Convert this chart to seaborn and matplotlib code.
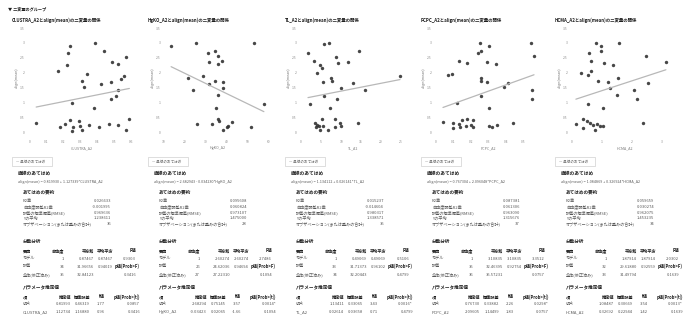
import math
import numpy as np
import pandas as pd
import matplotlib
matplotlib.use("Agg")
import matplotlib.pyplot as plt
from matplotlib.patches import Rectangle
import seaborn as sns

# ---- data -------------------------------------------------------------
response = "align(mean)"
group_title = "▼ 二変量のグループ"
names = ["CLUSTRA_A2", "HgKO_A2", "TL_A2", "PCPC_A2", "HCMA_A2"]

clustra_x = [0.39, 0.24, 0.23, 0.44, 0.57, 0.49, 0.52, 0.22, 0.17, 0.34, 0.56, 0.54,
             0.31, 0.48, 0.42, 0.32, 0.52, 0.51, 0.48, 0.25, 0.38, 0.59, 0.04, 0.24,
             0.29, 0.21, 0.26, 0.30, 0.35, 0.41, 0.47, 0.52, 0.25, 0.57, 0.18, 0.31]
clustra_y = [3.00, 2.90, 2.67, 2.73, 2.53, 2.37, 2.30, 2.27, 2.07, 1.97, 1.90, 1.80,
             1.73, 1.70, 1.63, 1.53, 1.43, 1.23, 1.13, 1.00, 0.83, 0.47, 0.33, 0.43,
             0.40, 0.30, 0.20, 0.23, 0.27, 0.20, 0.30, 0.27, 0.07, 0.10, 0.20, 0.10]

hgko_x = [13.8, 25.7, 52.9, 31.0, 34.3, 35.7, 31.9, 37.6, 35.7, 29.0, 21.9, 31.9,
          38.1, 34.3, 38.1, 24.3, 35.7, 57.6, 34.8, 35.7, 36.2, 26.2, 33.3, 40.5,
          40.0, 42.4, 38.1, 51.4]
hgko_y = [2.90, 3.00, 3.00, 2.67, 2.73, 2.57, 2.37, 2.40, 2.30, 1.90, 1.83, 1.63,
          1.70, 1.73, 1.50, 1.43, 1.27, 0.97, 0.83, 0.47, 0.40, 0.30, 0.30, 0.23,
          0.20, 0.37, 0.10, 0.20]

tl_x = [5.75, 7.0, 1.75, 14.5, 8.75, 3.25, 9.25, 11.75, 4.75, 5.25, 4.0, 7.5,
        7.75, 5.5, 13.0, 10.0, 16.0, 5.75, 9.0, 2.25, 7.25, 5.25, 8.5, 3.5,
        4.0, 4.5, 5.5, 3.75, 9.75, 10.0, 8.5, 14.25, 4.75, 6.75, 24.75]
tl_y = [2.97, 3.00, 2.67, 2.73, 2.53, 2.40, 2.33, 2.37, 2.27, 2.17, 2.00, 1.83,
        1.73, 1.70, 1.67, 1.50, 1.43, 1.23, 1.13, 0.97, 0.83, 0.47, 0.47, 0.33,
        0.27, 0.23, 0.23, 0.20, 0.33, 0.23, 0.20, 0.33, 0.10, 0.10, 1.90]

pcpc_x = [0.25, 0.30, 0.54, 0.26, 0.24, 0.56, 0.13, 0.18, 0.29, 0.34, 0.07, 0.09,
          0.26, 0.26, 0.29, 0.41, 0.39, 0.55, 0.55, 0.26, 0.12, 0.30, 0.04, 0.10,
          0.13, 0.15, 0.18, 0.21, 0.14, 0.17, 0.20, 0.21, 0.10, 0.30, 0.32, 0.35, 0.44]
pcpc_y = [3.00, 2.90, 3.00, 2.73, 2.67, 2.57, 2.40, 2.33, 2.37, 2.30, 1.93, 1.97,
          1.83, 1.73, 1.70, 1.67, 1.53, 1.43, 1.13, 1.23, 1.00, 0.83, 0.37, 0.33,
          0.30, 0.43, 0.47, 0.43, 0.20, 0.23, 0.27, 0.20, 0.17, 0.23, 0.20, 0.27, 0.33]

hcma_x = [0.80, 0.97, 1.57, 0.97, 0.57, 2.47, 0.63, 1.07, 1.37, 0.63, 0.30, 0.53,
          1.53, 0.87, 1.20, 2.53, 1.27, 2.07, 1.50, 2.17, 0.53, 1.03, 0.37, 0.50,
          0.13, 0.60, 0.70, 0.83, 0.93, 1.03, 0.37, 0.77, 2.37, 3.13]
hcma_y = [3.00, 2.90, 3.00, 2.73, 2.67, 2.57, 2.40, 2.33, 2.27, 2.07, 2.00, 1.93,
          1.83, 1.73, 1.70, 1.67, 1.50, 1.43, 1.27, 1.13, 0.97, 0.83, 0.47, 0.40,
          0.30, 0.33, 0.27, 0.30, 0.23, 0.23, 0.17, 0.10, 0.33, 2.35]

xs = [clustra_x, hgko_x, tl_x, pcpc_x, hcma_x]
ys = [clustra_y, hgko_y, tl_y, pcpc_y, hcma_y]

y_ticks = [0, 0.5, 1, 1.5, 2, 2.5, 3, 3.5]
y_tick_labels = ["0", "0.5", "1", "1.5", "2", "2.5", "3", "3.5"]
x_ticks = [[0, 0.1, 0.2, 0.3, 0.4, 0.5, 0.6],
           [10, 20, 30, 40, 50, 60],
           [0, 5, 10, 15, 20, 25],
           [0, 0.1, 0.2, 0.3, 0.4, 0.5],
           [0, 1, 2, 3]]
x_tick_labels = [["0", "0.1", "0.2", "0.3", "0.4", "0.5", "0.6"],
                 ["10", "20", "30", "40", "50", "60"],
                 ["0", "5", "10", "15", "20", "25"],
                 ["0", "0.1", "0.2", "0.3", "0.4", "0.5"],
                 ["0", "1", "2", "3"]]
x_limits = [(-0.02, 0.635), (9.5, 61.9), (-0.75, 27.0), (-0.017, 0.617), (-0.1, 3.6)]
y_limits = (-0.167, 3.5)

# ---- layout (pixels) -------------------------------------------------
W, H = 686, 320
panel_left = [12, 148, 285, 421, 555]
axes_left = [26, 162, 298, 433, 569]
axes_w, axes_top, axes_bottom = 111, 28, 138

sns.set_theme(style="white")
plt.rcParams["font.family"] = ["Noto Sans CJK JP", "DejaVu Sans"]

fig = plt.figure(figsize=(W / 100, H / 100), dpi=100)
fig.patch.set_facecolor("white")

BODY = "#5a5a5a"
HEAD = "#1e1e1e"
SMALL = 3.0


def put(px, py, s, size=SMALL, bold=False, ha="left", color=None, **kw):
    fig.text(px / W, 1 - py / H, s, fontsize=size, ha=ha, va="center",
             fontweight="bold" if bold else "normal",
             color=color or (HEAD if bold else BODY), **kw)


# ---- statistics helpers ----------------------------------------------
def betacf(a, b, x):
    fpmin = 1e-300
    qab, qap, qam = a + b, a + 1.0, a - 1.0
    c = 1.0
    d = 1.0 - qab * x / qap
    d = 1.0 / (d if abs(d) > fpmin else fpmin)
    h = d
    for m in range(1, 300):
        m2 = 2 * m
        aa = m * (b - m) * x / ((qam + m2) * (a + m2))
        d = 1.0 + aa * d
        d = d if abs(d) > fpmin else fpmin
        c = 1.0 + aa / c
        c = c if abs(c) > fpmin else fpmin
        d = 1.0 / d
        h *= d * c
        aa = -(a + m) * (qab + m) * x / ((a + m2) * (qap + m2))
        d = 1.0 + aa * d
        d = d if abs(d) > fpmin else fpmin
        c = 1.0 + aa / c
        c = c if abs(c) > fpmin else fpmin
        d = 1.0 / d
        de = d * c
        h *= de
        if abs(de - 1.0) < 3e-14:
            break
    return h


def betai(a, b, x):
    if x <= 0:
        return 0.0
    if x >= 1:
        return 1.0
    lbt = (math.lgamma(a + b) - math.lgamma(a) - math.lgamma(b)
           + a * math.log(x) + b * math.log(1 - x))
    bt = math.exp(lbt)
    if x < (a + 1) / (a + b + 2):
        return bt * betacf(a, b, x) / a
    return 1.0 - bt * betacf(b, a, 1 - x) / b


def p_two_sided(t, df):
    return betai(df / 2.0, 0.5, df / (df + t * t))


def fmt_p(p):
    if p < 0.0001:
        return "<.0001*"
    return f"{p:.4f}" + ("*" if p < 0.05 else "")


def fit(x, y):
    x = np.asarray(x, float)
    y = np.asarray(y, float)
    n = len(x)
    xm, ym = x.mean(), y.mean()
    sxx = ((x - xm) ** 2).sum()
    b = ((x - xm) * (y - ym)).sum() / sxx
    a = ym - b * xm
    resid = y - (a + b * x)
    sse = (resid ** 2).sum()
    sst = ((y - ym) ** 2).sum()
    ssm = sst - sse
    dfe = n - 2
    mse = sse / dfe
    r2 = ssm / sst
    r2a = 1 - (1 - r2) * (n - 1) / dfe
    rmse = math.sqrt(mse)
    se_b = math.sqrt(mse / sxx)
    se_a = math.sqrt(mse * (1.0 / n + xm ** 2 / sxx))
    t_a, t_b = a / se_a, b / se_b
    F = ssm / mse
    return dict(n=n, a=a, b=b, r2=r2, r2a=r2a, rmse=rmse, ym=ym, ssm=ssm,
                sse=sse, sst=sst, mse=mse, F=F, dfe=dfe, se_a=se_a, se_b=se_b,
                t_a=t_a, t_b=t_b, p_a=p_two_sided(t_a, dfe),
                p_b=p_two_sided(t_b, dfe), p_F=p_two_sided(t_b, dfe))


# ---- drawing -----------------------------------------------------------
put(8, 9, group_title, size=3.0, bold=True)

for i, name in enumerate(names):
    ox = panel_left[i]
    df = pd.DataFrame({name: xs[i], response: ys[i]})
    st = fit(xs[i], ys[i])

    put(ox, 20, f"{name}と{response}の二変量の関係", size=3.2, bold=True)

    ax = fig.add_axes([axes_left[i] / W, 1 - axes_bottom / H,
                       axes_w / W, (axes_bottom - axes_top) / H])
    sns.regplot(data=df, x=name, y=response, ax=ax, ci=None, truncate=True,
                scatter_kws=dict(s=6, color="#333333", linewidths=0, alpha=0.9),
                line_kws=dict(color="#b8b8b8", lw=0.9))
    ax.set_xlim(*x_limits[i])
    ax.set_ylim(*y_limits)
    ax.set_xticks(x_ticks[i])
    ax.set_xticklabels(x_tick_labels[i])
    ax.set_yticks(y_ticks)
    ax.set_yticklabels(y_tick_labels)
    ax.tick_params(labelsize=2.4, length=0, pad=1.2, colors="#8a8a8a")
    ax.set_xlabel("")
    ax.set_ylabel("")
    for sp in ax.spines.values():
        sp.set_visible(False)
    ax.set_facecolor("white")

    cx = axes_left[i] + axes_w / 2
    put(cx, 148, name, size=2.6, ha="center", color="#777777")
    put(axes_left[i] - 9, 78, response, size=2.6, ha="center", color="#777777",
        rotation=90)

    # fit legend box
    fig.patches.append(Rectangle((ox / W, 1 - 165.5 / H), 40 / W, 8.5 / H,
                                 transform=fig.transFigure, fill=False,
                                 edgecolor="#c4c4c4", lw=0.4))
    put(ox + 4, 161.3, "— 直線のあてはめ", size=2.6, color="#666666")

    # linear fit report
    put(ox + 6, 173, "直線のあてはめ", size=3.4, bold=True)
    sign = "+" if st["b"] >= 0 else "-"
    put(ox + 6, 182, f"{response} = {st['a']:.6f} {sign} {abs(st['b']):.6f}*{name}",
        size=2.7)

    put(ox + 11, 192, "あてはめの要約", size=3.3, bold=True)
    rows = [("R2乗", f"{st['r2']:.6f}"),
            ("自由度調整R2乗", f"{st['r2a']:.6f}"),
            ("誤差の標準偏差(RMSE)", f"{st['rmse']:.6f}"),
            ("Yの平均", f"{st['ym']:.6f}"),
            ("オブザベーション(または重みの合計)", f"{st['n']}")]
    for k, (lab, val) in enumerate(rows):
        yy = 201 + 5.8 * k
        put(ox + 11, yy, lab)
        put(ox + 99, yy, val, ha="right")

    put(ox + 11, 241, "分散分析", size=3.3, bold=True)
    cols_r = [ox + 52, ox + 82, ox + 101, ox + 124]
    put(ox + 11, 251, "要因", bold=True)
    for cr, h in zip(cols_r, ["自由度", "平方和", "平均平方", "F値"]):
        put(cr, 251, h, bold=True, ha="right")
    anova = [("モデル", "1", f"{st['ssm']:.5f}", f"{st['ssm']:.5f}", f"{st['F']:.4f}", False),
             ("誤差", f"{st['dfe']}", f"{st['sse']:.5f}", f"{st['mse']:.5f}", "p値(Prob>F)", True),
             ("全体(修正済み)", f"{st['n'] - 1}", f"{st['sst']:.5f}", "", fmt_p(st["p_F"]), False)]
    for k, (lab, dfv, ss, ms, last, bold_last) in enumerate(anova):
        yy = 258.5 + 8.2 * k
        put(ox + 11, yy, lab)
        put(cols_r[0], yy, dfv, ha="right")
        put(cols_r[1], yy, ss, ha="right")
        put(cols_r[2], yy, ms, ha="right")
        put(cols_r[3] + (4 if bold_last else 0), yy, last, ha="right",
            bold=bold_last)

    put(ox + 11, 287, "パラメータ推定値", size=3.3, bold=True)
    pcols = [ox + 59, ox + 78, ox + 93, ox + 128]
    put(ox + 11, 297, "項", bold=True)
    for cr, h in zip(pcols, ["推定値", "標準誤差", "t値", "p値(Prob>|t|)"]):
        put(cr, 297, h, bold=True, ha="right")
    params = [("切片", st["a"], st["se_a"], st["t_a"], st["p_a"]),
              (name, st["b"], st["se_b"], st["t_b"], st["p_b"])]
    for k, (lab, est, se, t, p) in enumerate(params):
        yy = 304 + 8 * k
        put(ox + 11, yy, lab)
        put(pcols[0], yy, f"{est:.5f}", ha="right")
        put(pcols[1], yy, f"{se:.5f}", ha="right")
        put(pcols[2], yy, f"{t:.2f}", ha="right")
        put(pcols[3], yy, fmt_p(p), ha="right")

fig.savefig("out.png", dpi=100, facecolor="white")
